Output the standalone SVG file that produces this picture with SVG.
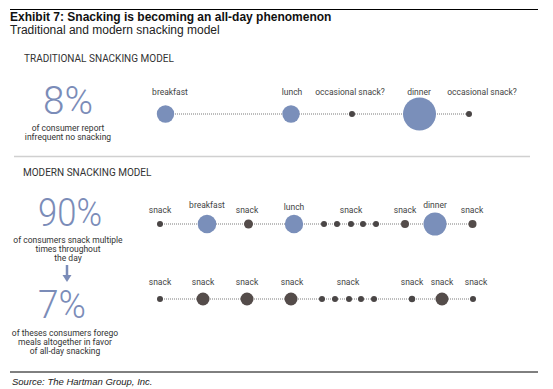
<svg xmlns="http://www.w3.org/2000/svg" width="553" height="389" viewBox="0 0 553 389">
<style>
.title{font-family:"Liberation Sans",Arial,sans-serif;font-weight:bold;font-size:12px;fill:#111}
.sub{font-family:"Liberation Sans",Arial,sans-serif;font-size:12px;fill:#222}
.hdr{font-family:Roboto,"Liberation Sans",sans-serif;font-size:10px;fill:#333}
.big{font-family:Roboto,"Liberation Sans",sans-serif;font-weight:300;font-size:38px;fill:#7b8cb8;text-anchor:middle}
.desc{font-family:Roboto,"Liberation Sans",sans-serif;font-size:8.5px;fill:#333;text-anchor:middle}
.lbl{font-family:Roboto,"Liberation Sans",sans-serif;font-size:8.5px;fill:#444;text-anchor:middle}
.src{font-family:"Liberation Sans",Arial,sans-serif;font-style:italic;font-size:9.5px;fill:#222}
.dots line{stroke:#7a7a7a;stroke-width:1;stroke-dasharray:1 1}
.meal{fill:#7a8fba}
.snk{fill:#544c4a}
.sm{fill:#4a4646}
</style>
<line x1="10" y1="9.5" x2="538" y2="9.5" stroke="#000" stroke-width="1.2"/>
<text class="title" x="10" y="21">Exhibit 7: Snacking is becoming an all-day phenomenon</text>
<text class="sub" x="10" y="34">Traditional and modern snacking model</text>

<g id="traditional-stats">
<text class="hdr" x="24" y="62">TRADITIONAL SNACKING MODEL</text>
<text class="big" x="68" y="114" textLength="50" lengthAdjust="spacingAndGlyphs">8%</text>
<text class="desc" x="68" y="131">of consumer report</text>
<text class="desc" x="68" y="140">infrequent no snacking</text>
</g>
<line x1="14" y1="156.5" x2="530" y2="156.5" stroke="#d0d0d0" stroke-width="1.5"/>

<g id="modern-stats">
<text class="hdr" x="23" y="176">MODERN SNACKING MODEL</text>
<text class="big" x="70" y="226" textLength="64" lengthAdjust="spacingAndGlyphs">90%</text>
<text class="desc" x="68" y="243">of consumers snack multiple</text>
<text class="desc" x="68" y="252">times throughout</text>
<text class="desc" x="68" y="261">the day</text>
<line x1="67" y1="265" x2="67" y2="276" stroke="#7b8cb8" stroke-width="2.5"/>
<polygon points="62.5,275 71.5,275 67,282" fill="#7b8cb8"/>
<text class="big" x="62" y="318" textLength="48" lengthAdjust="spacingAndGlyphs">7%</text>
<text class="desc" x="65" y="336">of theses consumers forego</text>
<text class="desc" x="65" y="345">meals altogether in favor</text>
<text class="desc" x="65" y="354">of all-day snacking</text>
</g>

<g id="connectors" class="dots">
<line x1="165" y1="114" x2="469" y2="114"/>
<line x1="160" y1="224" x2="472" y2="224"/>
<line x1="160" y1="299" x2="473" y2="299"/>
</g>

<g id="traditional-row">
<g id="t-breakfast"><circle class="meal" cx="165.5" cy="114" r="8.7"/><text class="lbl" x="170" y="95">breakfast</text></g>
<g id="t-lunch"><circle class="meal" cx="291" cy="114" r="8.7"/><text class="lbl" x="292" y="95">lunch</text></g>
<g id="t-snack1"><circle class="sm" cx="352" cy="114" r="3"/><text class="lbl" x="350" y="95">occasional snack?</text></g>
<g id="t-dinner"><circle class="meal" cx="419.5" cy="114" r="16.5"/><text class="lbl" x="419" y="95">dinner</text></g>
<g id="t-snack2"><circle class="sm" cx="469" cy="114" r="3"/><text class="lbl" x="482" y="95">occasional snack?</text></g>
</g>

<g id="modern-row1">
<g id="m1-snack1"><circle class="sm" cx="160" cy="224" r="3"/><text class="lbl" x="160" y="213">snack</text></g>
<g id="m1-breakfast"><circle class="meal" cx="207" cy="224" r="9.3"/><text class="lbl" x="207" y="208">breakfast</text></g>
<g id="m1-snack2"><circle class="snk" cx="248.5" cy="224" r="4.5"/><text class="lbl" x="247" y="213">snack</text></g>
<g id="m1-lunch"><circle class="meal" cx="294" cy="224" r="9.2"/><text class="lbl" x="294" y="210">lunch</text></g>
<g id="m1-snack3">
<circle class="sm" cx="324" cy="224" r="3"/><circle class="sm" cx="337" cy="224" r="3"/><circle class="sm" cx="351" cy="224" r="3"/><circle class="sm" cx="363" cy="224" r="3"/><circle class="sm" cx="376" cy="224" r="3"/>
<text class="lbl" x="351" y="213">snack</text></g>
<g id="m1-snack4"><circle class="snk" cx="405" cy="224" r="4"/><text class="lbl" x="405" y="213">snack</text></g>
<g id="m1-dinner"><circle class="meal" cx="435" cy="224" r="11.5"/><text class="lbl" x="435" y="208">dinner</text></g>
<g id="m1-snack5"><circle class="snk" cx="472.5" cy="224" r="4"/><text class="lbl" x="472" y="213">snack</text></g>
</g>

<g id="modern-row2">
<g id="m2-snack1"><circle class="sm" cx="160" cy="299" r="3"/><text class="lbl" x="160" y="285">snack</text></g>
<g id="m2-snack2"><circle class="snk" cx="203" cy="299" r="6.5"/><text class="lbl" x="203" y="285">snack</text></g>
<g id="m2-snack3"><circle class="snk" cx="247" cy="299" r="6.5"/><text class="lbl" x="247" y="285">snack</text></g>
<g id="m2-snack4"><circle class="snk" cx="291" cy="299" r="6.5"/><text class="lbl" x="292" y="285">snack</text></g>
<g id="m2-snack5">
<circle class="sm" cx="322" cy="299" r="3"/><circle class="sm" cx="335" cy="299" r="3"/><circle class="sm" cx="349" cy="299" r="3"/><circle class="sm" cx="361" cy="299" r="3"/><circle class="sm" cx="374" cy="299" r="3"/>
<text class="lbl" x="348" y="285">snack</text></g>
<g id="m2-snack6"><circle class="sm" cx="412" cy="299" r="3.2"/><text class="lbl" x="412" y="285">snack</text></g>
<g id="m2-snack7"><circle class="snk" cx="442" cy="299" r="6.5"/><text class="lbl" x="442" y="285">snack</text></g>
<g id="m2-snack8"><circle class="sm" cx="473" cy="299" r="3"/><text class="lbl" x="476" y="285">snack</text></g>
</g>

<line x1="10" y1="372" x2="538" y2="372" stroke="#000" stroke-width="1"/>
<text class="src" x="12" y="385">Source: The Hartman Group, Inc.</text>
</svg>
